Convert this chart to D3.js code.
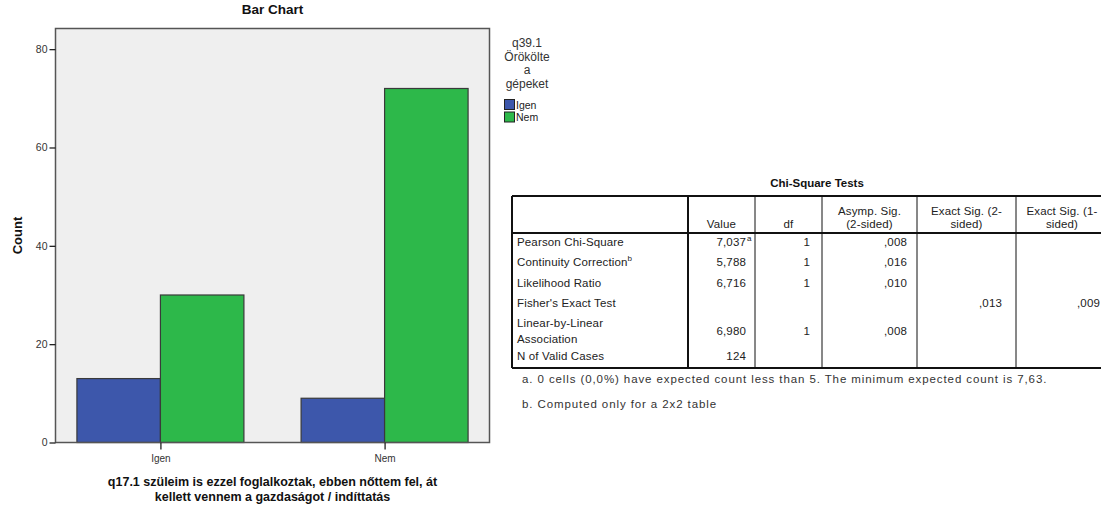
<!DOCTYPE html>
<html><head><meta charset="utf-8">
<script src="https://cdn.jsdelivr.net/npm/d3@7"></script>
<style>
html,body{margin:0;padding:0;background:#fff;}
svg{display:block;font-family:"Liberation Sans",Arial,sans-serif;}
</style></head>
<body><svg id="c" width="1101" height="506"></svg>
<script>
// ---- data ----
const categories = ["Igen", "Nem"];
const seriesNames = ["Igen", "Nem"];
const seriesIgen = [13, 9];
const seriesNem = [30, 72];
const yTicks = [0, 20, 40, 60, 80];
const seriesColors = ["#3d57ab", "#2db84a"];
const legendTitle = ["q39.1", "Örökölte", "a", "gépeket"];
const chartTitle = "Bar Chart";
const yTitle = "Count";
const xTitle = ["q17.1 szüleim is ezzel foglalkoztak, ebben nőttem fel, át", "kellett vennem a gazdaságot / indíttatás"];

const tableTitle = "Chi-Square Tests";
const tableHeaders = ["", "Value", "df", "Asymp. Sig.\n(2-sided)", "Exact Sig. (2-\nsided)", "Exact Sig. (1-\nsided)"];
const rowLabels = ["Pearson Chi-Square", "Continuity Correction", "Likelihood Ratio", "Fisher's Exact Test", "Linear-by-Linear\nAssociation", "N of Valid Cases"];
const rowLabelSup = ["", "b", "", "", "", ""];
const colValue = ["7,037", "5,788", "6,716", "", "6,980", "124"];
const colValueSup = ["a", "", "", "", "", ""];
const colDf = ["1", "1", "1", "", "1", ""];
const colAsymp = [",008", ",016", ",010", "", ",008", ""];
const colExact2 = ["", "", "", ",013", "", ""];
const colExact1 = ["", "", "", ",009", "", ""];
const footnotes = ["a. 0 cells (0,0%) have expected count less than 5. The minimum expected count is 7,63.", "b. Computed only for a 2x2 table"];

const svg = d3.select("#c");

// ---- bar chart ----
const P = {l: 55.5, r: 489.5, t: 28.5, b: 442.5};
const y = d3.scaleLinear().domain([0, 84.2]).range([P.b, P.t]);
const x0 = d3.scalePoint().domain(categories).range([P.l, P.r]).padding(0.468);
const x1 = d3.scaleBand().domain(seriesNames).range([-83.5, 83.5]).padding(0);
const series = [seriesIgen, seriesNem];

svg.append("rect").attr("x", P.l).attr("y", P.t).attr("width", P.r - P.l).attr("height", P.b - P.t)
  .attr("fill", "#efefef").attr("stroke", "none");

const g = svg.append("g");
categories.forEach((c, ci) => {
  seriesNames.forEach((s, si) => {
    const v = series[si][ci];
    g.append("rect")
      .attr("x", x0(c) + x1(s))
      .attr("y", y(v))
      .attr("width", x1.bandwidth())
      .attr("height", y(0) - y(v))
      .attr("fill", seriesColors[si])
      .attr("stroke", "#3a3a3a").attr("stroke-width", 1.2);
  });
});

svg.append("rect").attr("x", P.l).attr("y", P.t).attr("width", P.r - P.l).attr("height", P.b - P.t)
  .attr("fill", "none").attr("stroke", "#555").attr("stroke-width", 1.5);

const yAxis = svg.append("g").attr("transform", `translate(${P.l},0)`)
  .call(d3.axisLeft(y).tickValues(yTicks).tickSize(6).tickPadding(2).tickFormat(d3.format("d")));
yAxis.select(".domain").remove();
yAxis.selectAll("line").attr("stroke", "#222").attr("stroke-width", 1.3);
yAxis.selectAll("text").attr("font-size", 10.5).attr("fill", "#333").attr("font-family", "Liberation Sans, Arial");

const xAxis = svg.append("g").attr("transform", `translate(0,${P.b})`)
  .call(d3.axisBottom(x0).tickSize(7).tickPadding(5));
xAxis.select(".domain").remove();
xAxis.selectAll("line").attr("stroke", "#222").attr("stroke-width", 1.3);
xAxis.selectAll("text").attr("font-size", 10).attr("fill", "#333").attr("font-family", "Liberation Sans, Arial");

svg.append("text").attr("x", (P.l + P.r) / 2).attr("y", 14).attr("text-anchor", "middle")
  .attr("font-size", 13.5).attr("font-weight", "bold").attr("fill", "#111").text(chartTitle);

svg.append("text").attr("transform", `translate(22,${(P.t + P.b) / 2}) rotate(-90)`).attr("text-anchor", "middle")
  .attr("font-size", 13).attr("font-weight", "bold").attr("fill", "#111").text(yTitle);

xTitle.forEach((t, i) => {
  svg.append("text").attr("x", (P.l + P.r) / 2).attr("y", 486 + i * 15).attr("text-anchor", "middle")
    .attr("font-size", 12.5).attr("font-weight", "bold").attr("fill", "#111").text(t);
});

// legend
legendTitle.forEach((t, i) => {
  svg.append("text").attr("x", 527).attr("y", 47 + i * 13.6).attr("text-anchor", "middle")
    .attr("font-size", 12).attr("fill", "#333").text(t);
});
seriesNames.forEach((s, i) => {
  svg.append("rect").attr("x", 504.5).attr("y", 99.5 + i * 12.5).attr("width", 10).attr("height", 10)
    .attr("fill", seriesColors[i]).attr("stroke", "#222").attr("stroke-width", 1);
  svg.append("text").attr("x", 516).attr("y", 108.5 + i * 12.5).attr("font-size", 10.5).attr("fill", "#222").text(s);
});

// ---- table ----
const T = {l: 512, top: 196, hb: 233, bot: 368};
const colEdges = [512, 688, 755, 822, 917, 1016, 1108];
svg.append("text").attr("x", 817).attr("y", 187).attr("text-anchor", "middle")
  .attr("font-size", 11.5).attr("font-weight", "bold").attr("fill", "#111").text(tableTitle);

const tg = svg.append("g").attr("font-size", 11.5).attr("fill", "#222").attr("letter-spacing", 0.15);
// header
tableHeaders.forEach((h, i) => {
  if (!h) return;
  const lines = h.split("\n");
  const cx = (colEdges[i] + colEdges[i + 1]) / 2;
  lines.forEach((ln, k) => {
    tg.append("text").attr("x", cx).attr("y", T.hb - 5 - (lines.length - 1 - k) * 13).attr("text-anchor", "middle").text(ln);
  });
});
const rowY = [246, 266, 287, 307, 327, 360];
rowLabels.forEach((lab, r) => {
  const lines = lab.split("\n");
  lines.forEach((ln, k) => {
    const t = tg.append("text").attr("x", 517).attr("y", rowY[r] + k * 16).text(ln);
    if (rowLabelSup[r]) t.append("tspan").attr("font-size", 8).attr("dy", -5).text(rowLabelSup[r]);
  });
});
const valY = (r) => rowLabels[r].includes("\n") ? rowY[r] + 8 : rowY[r];
const cols = [colValue, colDf, colAsymp, colExact2, colExact1];
const rightX = [746, 810, 907, 1002, 1100];
cols.forEach((col, ci) => {
  col.forEach((v, r) => {
    if (!v) return;
    tg.append("text").attr("x", rightX[ci]).attr("y", valY(r)).attr("text-anchor", "end").text(v);
    if (ci === 0 && colValueSup[r]) {
      tg.append("text").attr("x", 747).attr("y", valY(r) - 5).attr("font-size", 8).text(colValueSup[r]);
    }
  });
});
// lines
const lg = svg.append("g").attr("stroke", "#111").attr("fill", "none");
lg.append("line").attr("x1", T.l).attr("x2", 1101).attr("y1", T.top).attr("y2", T.top).attr("stroke-width", 2);
lg.append("line").attr("x1", T.l).attr("x2", 1101).attr("y1", T.hb).attr("y2", T.hb).attr("stroke-width", 2);
lg.append("line").attr("x1", T.l).attr("x2", 1101).attr("y1", T.bot).attr("y2", T.bot).attr("stroke-width", 2);
colEdges.slice(0, 6).forEach((xe, i) => {
  lg.append("line").attr("x1", xe).attr("x2", xe).attr("y1", T.top).attr("y2", T.bot)
    .attr("stroke-width", (i === 0 || i === 1) ? 2 : 1);
});
footnotes.forEach((f, i) => {
  svg.append("text").attr("x", 522).attr("y", 383 + i * 25).attr("font-size", 11.5).attr("letter-spacing", 0.9)
    .attr("fill", "#333").text(f);
});
</script></body></html>
